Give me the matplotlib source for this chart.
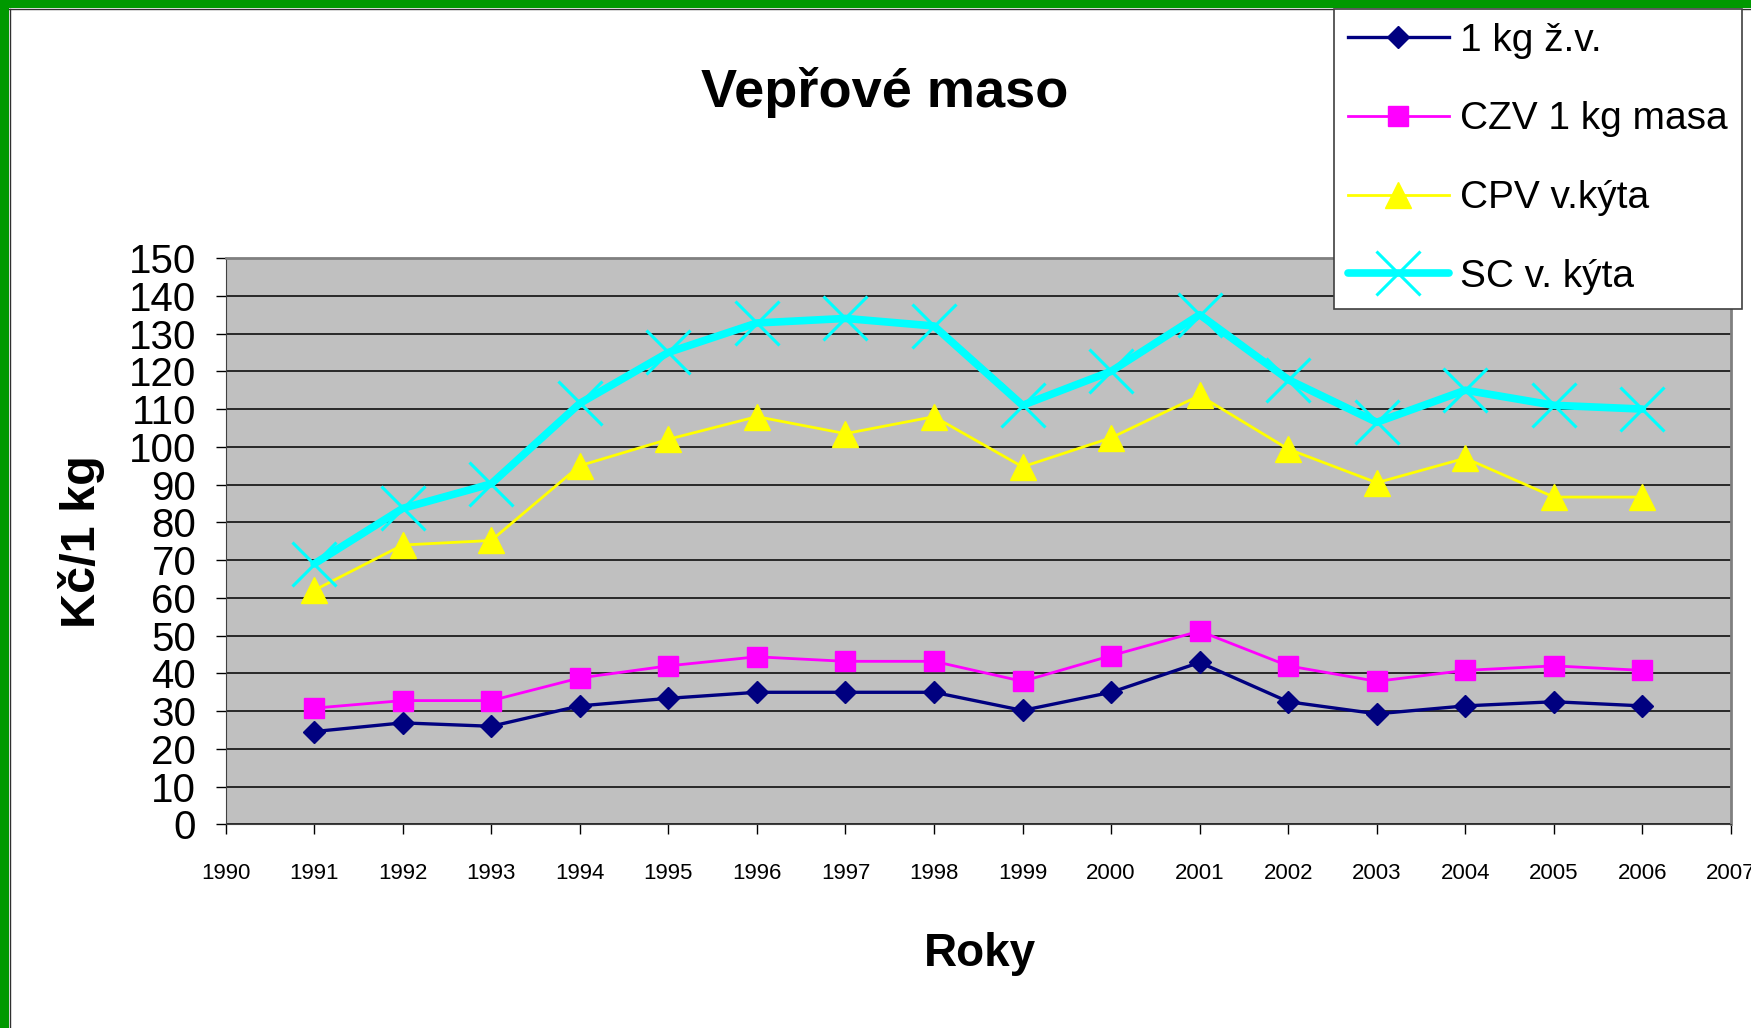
import matplotlib
matplotlib.use("Agg")
import matplotlib.pyplot as plt
from matplotlib.patches import Rectangle

# Data
years = [1991, 1992, 1993, 1994, 1995, 1996, 1997, 1998,
         1999, 2000, 2001, 2002, 2003, 2004, 2005, 2006]
kg_zv = [24.6, 26.9, 26.0, 31.4, 33.4, 35.0, 35.0, 35.0,
         30.2, 35.0, 42.9, 32.5, 29.3, 31.4, 32.5, 31.4]
czv_masa = [30.8, 32.8, 32.8, 38.8, 42.0, 44.4, 43.2, 43.2,
            37.9, 44.7, 51.2, 42.0, 37.9, 40.8, 42.0, 40.8]
cpv_kyta = [62.0, 74.0, 75.2, 95.0, 102.0, 108.0, 103.5, 108.0,
            94.7, 102.4, 113.6, 99.4, 90.5, 97.0, 86.7, 86.7]
sc_kyta = [69.0, 83.7, 90.2, 111.5, 125.0, 132.8, 134.0, 132.0,
           111.0, 120.0, 135.0, 117.8, 106.5, 115.0, 111.0, 110.0]

labels = ["1 kg ž.v.", "CZV 1 kg masa", "CPV v.kýta", "SC v. kýta"]
x_ticks = list(range(1990, 2008))
y_ticks = list(range(0, 151, 10))

plt.rcParams["font.family"] = ["Liberation Sans", "DejaVu Sans"]

fig = plt.figure(figsize=(17.51, 10.28), dpi=100)
fig.patch.set_facecolor("white")

# green frame (top and left) like the screenshot
fig.patches.append(Rectangle((0, 1 - 8 / 1028), 1, 8 / 1028, transform=fig.transFigure,
                             facecolor="#009900", edgecolor="none", zorder=0))
fig.patches.append(Rectangle((0, 0), 9 / 1751, 1, transform=fig.transFigure,
                             facecolor="#009900", edgecolor="none", zorder=0))
fig.add_artist(plt.Line2D([9 / 1751, 1], [1 - 9 / 1028, 1 - 9 / 1028],
                          transform=fig.transFigure, color="#303030", lw=1))
fig.add_artist(plt.Line2D([10 / 1751, 10 / 1751], [0, 1 - 9 / 1028],
                          transform=fig.transFigure, color="#303030", lw=1))

ax = fig.add_axes([0.1288, 0.198, 0.8598, 0.551])
ax.set_facecolor("#C0C0C0")

ax.plot(years, kg_zv, color="#000080", lw=2.4, marker="D", ms=11,
        markeredgecolor="#000080", label=labels[0], zorder=3)
ax.plot(years, czv_masa, color="#FF00FF", lw=2.0, marker="s", ms=14,
        markeredgecolor="#FF00FF", label=labels[1], zorder=3)
ax.plot(years, cpv_kyta, color="#FFFF00", lw=2.0, marker="^", ms=19,
        markeredgecolor="#FFFF00", label=labels[2], zorder=3)
ax.plot(years, sc_kyta, color="#00FFFF", lw=5.5, marker="x", ms=32,
        markeredgewidth=2.2, solid_capstyle="round", label=labels[3], zorder=3)

ax.set_xlim(1990, 2007)
ax.set_ylim(0, 150)
ax.set_xticks(x_ticks)
ax.set_yticks(y_ticks)
ax.tick_params(axis="x", labelsize=16, length=7, width=1, pad=21, direction="out")
ax.tick_params(axis="y", labelsize=29, length=7, width=1, pad=14, direction="out")
ax.grid(axis="y", color="black", lw=1.1, zorder=1)
ax.set_axisbelow(True)

for side in ("top", "right"):
    ax.spines[side].set_color("#808080")
    ax.spines[side].set_linewidth(2)
ax.spines["left"].set_color("#404040")
ax.spines["bottom"].set_color("#404040")

ax.set_xlabel("Roky", fontsize=33, fontweight="bold")
ax.xaxis.set_label_coords(0.501, -0.19)
ax.set_ylabel("Kč/1 kg", fontsize=35, fontweight="bold")
ax.yaxis.set_label_coords(-0.08, 0.5)

fig.text(0.505, 0.91, "Vepřové maso", fontsize=39, fontweight="bold",
         ha="center", va="center")

leg = fig.legend(loc="upper left", bbox_to_anchor=(0.7618, 0.9912),
                 fontsize=28, frameon=True, fancybox=False, shadow=False,
                 handlelength=2.6, handletextpad=0.3, labelspacing=1.1,
                 borderpad=0.35, borderaxespad=0.0)
leg.get_frame().set_edgecolor("#404040")
leg.get_frame().set_linewidth(1.2)
leg.get_frame().set_facecolor("white")
leg.get_frame().set_alpha(1)

fig.savefig("out.png", dpi=100, facecolor="white")
